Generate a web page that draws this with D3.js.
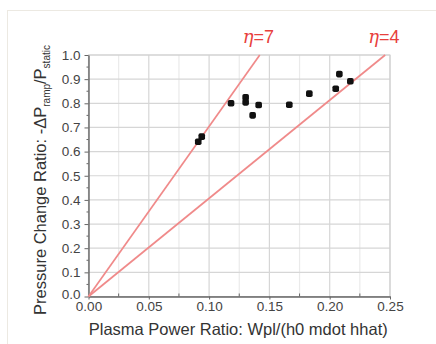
<!DOCTYPE html>
<html><head><meta charset="utf-8">
<script src="https://cdn.jsdelivr.net/npm/d3@7"></script>
<style>body{margin:0;background:#fff}svg{display:block}</style>
</head><body>
<script>
const xValues = [0.0910,0.0939,0.1182,0.1303,0.1303,0.1361,0.1411,0.1665,0.1831,0.2050,0.2080,0.2171];
const yValues = [0.641,0.662,0.800,0.825,0.804,0.750,0.793,0.794,0.840,0.860,0.921,0.891];
const lineLabels = ["7","4"];
const lineEndX = [0.142,0.246];
const lineEndY = [1.0,1.0];
const xTicks = [0,0.05,0.10,0.15,0.20,0.25];
const yTicks = [0,0.1,0.2,0.3,0.4,0.5,0.6,0.7,0.8,0.9,1.0];

const W=436,H=344;
const m={l:88.5,r:390,t:55,b:296.5};
const svg=d3.select("body").append("svg").attr("width",W).attr("height",H);
svg.append("rect").attr("x",7.5).attr("y",10.5).attr("width",440).attr("height",340)
  .attr("fill","#fff").attr("stroke","#ece9e2");

const x=d3.scaleLinear().domain([0,0.25]).range([m.l,m.r]);
const y=d3.scaleLinear().domain([0,1]).range([m.b,m.t]);

// grid
const g=svg.append("g");
g.selectAll(".vm").data(d3.range(0,0.2501,0.025)).join("line")
  .attr("x1",d=>x(d)).attr("x2",d=>x(d)).attr("y1",m.t).attr("y2",m.b)
  .attr("stroke",(d,i)=>i%2?"#eaeaea":"#d6d6d6").attr("stroke-width",1.2);
g.selectAll(".hm").data(yTicks).join("line")
  .attr("x1",m.l).attr("x2",m.r).attr("y1",d=>y(d)).attr("y2",d=>y(d))
  .attr("stroke","#d6d6d6").attr("stroke-width",1.2);
svg.append("rect").attr("x",m.l).attr("y",m.t).attr("width",m.r-m.l).attr("height",m.b-m.t)
  .attr("fill","none").attr("stroke","#cfcfcf");

// axes
const xa=svg.append("g").attr("transform",`translate(0,${m.b})`)
  .call(d3.axisBottom(x).tickValues(xTicks).tickFormat(d3.format(".2f")).tickSize(3).tickSizeOuter(0));
const ya=svg.append("g").attr("transform",`translate(${m.l},0)`)
  .call(d3.axisLeft(y).tickValues(yTicks).tickFormat(d3.format(".1f")).tickSize(4).tickSizeOuter(0));
[xa,ya].forEach(a=>{
  a.select(".domain").attr("stroke","#666").attr("stroke-width",1.4);
  a.selectAll(".tick line").attr("stroke","#666");
  a.selectAll("text").attr("font-family","Liberation Sans, Arial, sans-serif").attr("font-size",13.5).attr("fill","#444");
});
xa.selectAll("text").attr("y",5).attr("dy","0.71em");
ya.selectAll("text").attr("dx","-1").attr("dy",(d)=>d===0?"0.15em":"0.32em");
// minor ticks
svg.append("g").selectAll("line").data(d3.range(0.025,0.25,0.05)).join("line")
  .attr("x1",d=>x(d)).attr("x2",d=>x(d)).attr("y1",m.b).attr("y2",m.b-3).attr("stroke","#666");
svg.append("g").selectAll("line").data(d3.range(0.05,1,0.1)).join("line")
  .attr("x1",m.l).attr("x2",m.l-2).attr("y1",d=>y(d)).attr("y2",d=>y(d)).attr("stroke","#666");

// eta lines
lineEndX.forEach((ex,i)=>{
  svg.append("line").attr("x1",x(0)).attr("y1",y(0)).attr("x2",x(ex)).attr("y2",y(lineEndY[i]))
    .attr("stroke","#f08a8a").attr("stroke-width",1.7);
  const t=svg.append("text").attr("x",x(ex)-17).attr("y",y(lineEndY[i])-12)
    .attr("fill","#e8403c").attr("font-size",18).attr("font-family","Liberation Sans, Arial, sans-serif");
  t.append("tspan").attr("font-family","DejaVu Serif, Liberation Serif, serif").attr("font-style","italic").text("η");
  t.append("tspan").text("="+lineLabels[i]);
});

// points
svg.append("g").selectAll("rect").data(xValues).join("rect")
  .attr("x",(d,i)=>x(d)-3.3).attr("y",(d,i)=>y(yValues[i])-3.3).attr("width",6.6).attr("height",6.6)
  .attr("rx",1.8).attr("fill","#111");

// axis titles
svg.append("text").attr("x",(m.l+m.r)/2-1).attr("y",335).attr("text-anchor","middle")
  .attr("font-family","Liberation Sans, Arial, sans-serif").attr("font-size",16.5).attr("fill","#333")
  .text("Plasma Power Ratio: Wpl/(h0 mdot hhat)");
const yt=svg.append("text").attr("transform",`translate(46,180) rotate(-90)`)
  .attr("text-anchor","middle").attr("font-family","Liberation Sans, Arial, sans-serif")
  .attr("font-size",16.5).attr("fill","#333");
yt.append("tspan").text("Pressure Change Ratio: -ΔP");
yt.append("tspan").attr("font-size",10).attr("dy",4).text("ramp");
yt.append("tspan").attr("dy",-4).text("/P");
yt.append("tspan").attr("font-size",10).attr("dy",4).text("static");
</script>
</body></html>
